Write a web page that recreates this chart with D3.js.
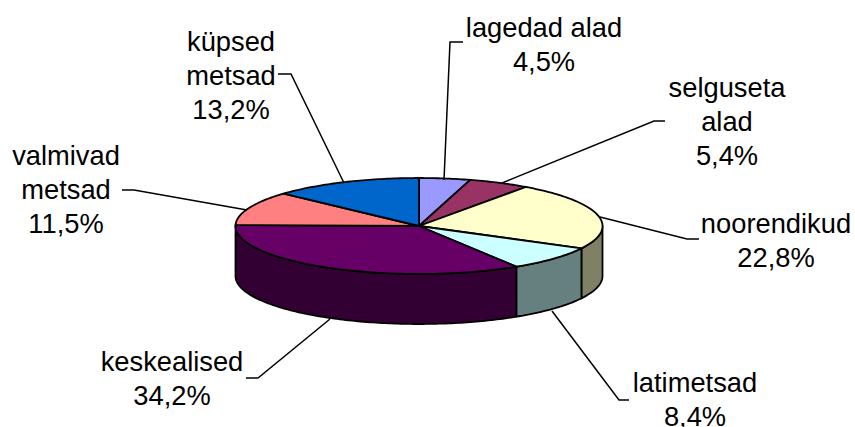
<!DOCTYPE html>
<html><head><meta charset="utf-8">
<script src="https://cdn.jsdelivr.net/npm/d3@7"></script>
<style>html,body{margin:0;padding:0;background:#fff;overflow:hidden}
svg{display:block}text{font-family:"Liberation Sans",Arial,sans-serif;font-size:27.3px;fill:#000}</style>
</head><body><svg id="c" width="855" height="427"></svg>
<script>
const categories = ["lagedad alad","selguseta alad","noorendikud","latimetsad","keskealised","valmivad metsad","küpsed metsad"];
const values = [4.5,5.4,22.8,8.4,34.2,11.5,13.2];
const valueLabels = ["4,5%","5,4%","22,8%","8,4%","34,2%","11,5%","13,2%"];
const topColors = ["#9999FF","#993366","#FFFFCC","#CCFFFF","#660066","#FF8080","#0066CC"];
const sideColors = ["#666680","#4d1a33","#808066","#668080","#330033","#804040","#003366"];
const labelLines = [["lagedad alad"],["selguseta","alad"],["noorendikud"],["latimetsad"],["keskealised"],["valmivad","metsad"],["küpsed","metsad"]];
const labelAnchors = [[544,37],[727,97],[776,233],[695,392],[172,371],[66,165],[231,51]];
const leaders = [
 [[463,42],[450,42],[444,180]],
 [[665,121],[654,121],[502,183]],
 [[699,239],[687,239],[600,217]],
 [[629,400],[619,400],[552,311]],
 [[246,378],[258,378],[330,319]],
 [[122,190],[134,190],[247,210]],
 [[278,74],[291,74],[344,183]]
];
const cx=419, cy=226, rx=183.5, ry=48, depth=50;
const svg=d3.select("#c");
const pie=d3.pie().sort(null).value(d=>d)(values);
const ex=a=>cx+rx*Math.sin(a), ey=a=>cy-ry*Math.cos(a);
const STEP=Math.PI/180;
function arcPts(a0,a1){const n=Math.max(2,Math.ceil((a1-a0)/STEP));return d3.range(n+1).map(i=>a0+(a1-a0)*i/n);}
const line=d3.line();
const g=svg.append("g").attr("stroke","#000").attr("stroke-width",1.8).attr("stroke-linejoin","round");
pie.forEach((p,i)=>{
  const a0=Math.max(p.startAngle,Math.PI/2), a1=Math.min(p.endAngle,Math.PI*1.5);
  if(a1<=a0) return;
  const pts=arcPts(a0,a1);
  const top=pts.map(a=>[ex(a),ey(a)]), bot=pts.map(a=>[ex(a),ey(a)+depth]).reverse();
  g.append("path").attr("d",line(top.concat(bot))+"Z").attr("fill",sideColors[i]);
});
pie.forEach((p,i)=>{
  const pts=arcPts(p.startAngle,p.endAngle).map(a=>[ex(a),ey(a)]);
  g.append("path").attr("d",line([[cx,cy],...pts])+"Z").attr("fill",topColors[i]);
});
svg.append("g").selectAll("path").data(leaders).join("path")
  .attr("d",d=>line(d)).attr("fill","none").attr("stroke","#000").attr("stroke-width",1.5);
const LH=34;
labelLines.forEach((ls,i)=>{
  const [x,y]=labelAnchors[i];
  const t=svg.append("text").attr("text-anchor","middle");
  ls.concat([valueLabels[i]]).forEach((s,k)=>t.append("tspan").attr("x",x).attr("y",y+k*LH).text(s));
});
</script></body></html>
